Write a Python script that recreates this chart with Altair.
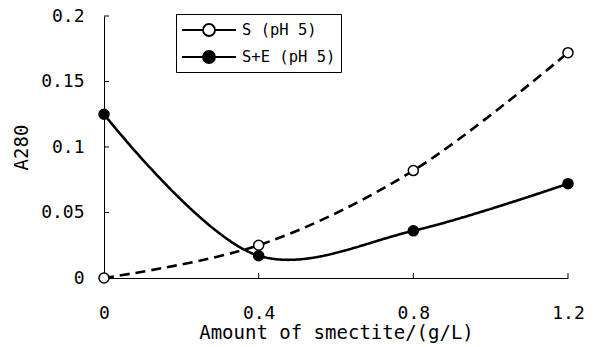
import altair as alt
import pandas as pd

# ---- data ----
amount = [0, 0.4, 0.8, 1.2]
s_ph5 = [0.0, 0.025, 0.082, 0.172]
se_ph5 = [0.125, 0.017, 0.036, 0.072]
series_names = ["S (pH 5)", "S+E (pH 5)"]
line_styles = ["dashed", "solid"]
x_ticks = [0, 0.4, 0.8, 1.2]
y_ticks = [0, 0.05, 0.1, 0.15, 0.2]

rows = []
for name, style, vals in zip(series_names, line_styles, [s_ph5, se_ph5]):
    for a, v in zip(amount, vals):
        rows.append({"x": a, "y": v, "series": name, "style": style})
df = pd.DataFrame(rows)

W, H = 464, 262
FONT = "DejaVu Sans Mono"

xscale = alt.Scale(domain=[0, 1.2], nice=False)
yscale = alt.Scale(domain=[0, 0.2], nice=False)

xaxis = alt.Axis(values=x_ticks, format="~g", title="Amount of smectite/(g/L)",
                 tickSize=0, labelPadding=26, titlePadding=1, grid=False, labelFlush=False,
                 domainColor="black", labelColor="black", titleColor="black",
                 labelFont=FONT, labelFontSize=18, titleFont=FONT, titleFontSize=19,
                 titleFontWeight="normal")
yaxis = alt.Axis(values=y_ticks, format="~g", title="A280",
                 tickSize=0, labelPadding=20, titlePadding=9, grid=False,
                 domainColor="black", labelColor="black", titleColor="black",
                 labelFont=FONT, labelFontSize=18, titleFont=FONT, titleFontSize=19,
                 titleFontWeight="normal")

base = alt.Chart(df)

lines = base.mark_line(interpolate="catmull-rom", strokeWidth=2.6, color="black").encode(
    x=alt.X("x:Q", scale=xscale, axis=xaxis),
    y=alt.Y("y:Q", scale=yscale, axis=yaxis),
    strokeDash=alt.StrokeDash("style:N",
                              scale=alt.Scale(domain=line_styles, range=[[10, 6], [1, 0]]),
                              legend=None),
)

# legend glyph: a short line with a circle in its middle
sym = "M-1,0L1.1,0M2.3,0L4.4,0M1.1,0A0.6,0.6,0,1,0,2.3,0A0.6,0.6,0,1,0,1.1,0Z"

points = base.mark_point(shape="circle", size=100, filled=True, stroke="black",
                         strokeWidth=1.5, opacity=1).encode(
    x=alt.X("x:Q", scale=xscale),
    y=alt.Y("y:Q", scale=yscale),
    color=alt.Color("series:N",
                    scale=alt.Scale(domain=series_names, range=["white", "black"]),
                    legend=alt.Legend(title=None, orient="none", legendX=72, legendY=-2,
                                      symbolType=sym, symbolSize=400,
                                      symbolStrokeColor="black", symbolStrokeWidth=1.8,
                                      symbolOpacity=1, rowPadding=6,
                                      labelFont=FONT, labelFontSize=15.5, labelColor="black",
                                      labelOffset=39, strokeColor="black", padding=5,
                                      fillColor="white")),
)

ytick_df = pd.DataFrame({"y": y_ticks[1:]})
xtick_df = pd.DataFrame({"x": x_ticks[1:]})

yticks = alt.Chart(ytick_df).mark_rule(color="black", strokeWidth=1).encode(
    y=alt.Y("y:Q", scale=yscale),
    x=alt.value(0), x2=alt.value(5),
)
xticks = alt.Chart(xtick_df).mark_rule(color="black", strokeWidth=1).encode(
    x=alt.X("x:Q", scale=xscale),
    y=alt.value(H - 5), y2=alt.value(H),
)

chart = alt.layer(lines, points, yticks, xticks).properties(
    width=W, height=H,
    autosize=alt.AutoSizeParams(type="none"),
    padding={"left": 104, "top": 16, "right": 25, "bottom": 69},
    background="white",
).configure_view(stroke=None)

chart.save("out.html", embed_options={"renderer": "svg", "actions": False})
